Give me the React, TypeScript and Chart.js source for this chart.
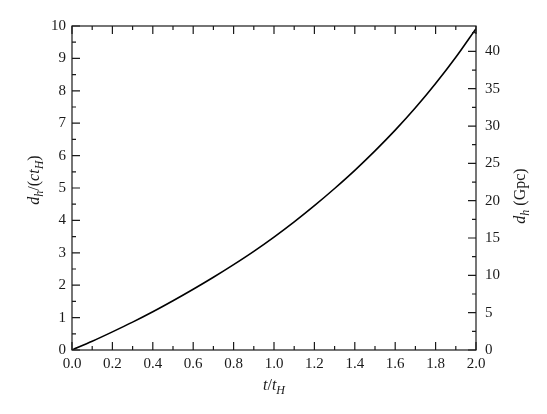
import React, { useEffect, useRef } from "react";
import { Chart, registerables } from "chart.js";

Chart.register(...registerables);

// ---- data ----
const timeValues = [0, 0.1, 0.2, 0.3, 0.4, 0.5, 0.6, 0.7, 0.8, 0.9, 1.0, 1.1, 1.2, 1.3, 1.4, 1.5, 1.6, 1.7, 1.8, 1.9, 2.0];
const horizonDistance = [0, 0.27, 0.56, 0.86, 1.18, 1.52, 1.875, 2.245, 2.635, 3.045, 3.485, 3.955, 4.455, 4.985, 5.545, 6.145, 6.785, 7.475, 8.225, 9.035, 9.92];

const xMajorTicks = [0, 0.2, 0.4, 0.6, 0.8, 1.0, 1.2, 1.4, 1.6, 1.8, 2.0];
const xMinorTicks = [0.1, 0.3, 0.5, 0.7, 0.9, 1.1, 1.3, 1.5, 1.7, 1.9];
const yLeftMajorTicks = [0, 1, 2, 3, 4, 5, 6, 7, 8, 9, 10];
const yLeftMinorTicks = [0.5, 1.5, 2.5, 3.5, 4.5, 5.5, 6.5, 7.5, 8.5, 9.5];
const yRightMajorTicks = [0, 5, 10, 15, 20, 25, 30, 35, 40];
const yRightMinorTicks = [2.5, 7.5, 12.5, 17.5, 22.5, 27.5, 32.5, 37.5, 42.5];
const gpcPerHubbleUnit = 4.34; // c t_H in Gpc

const SERIF = "'Liberation Serif', 'DejaVu Serif', serif";
const INK = "#1a1a1a";

type Seg = { text: string; italic?: boolean; sub?: boolean };

function drawRich(ctx: CanvasRenderingContext2D, segs: Seg[], cx: number, cy: number, rot: number, size: number) {
  const subSize = Math.round(size * 0.72);
  const fontOf = (s: Seg) => `${s.italic ? "italic " : ""}${s.sub ? subSize : size}px ${SERIF}`;
  let total = 0;
  const widths = segs.map((s) => {
    ctx.font = fontOf(s);
    const w = ctx.measureText(s.text).width;
    total += w;
    return w;
  });
  ctx.save();
  ctx.translate(cx, cy);
  ctx.rotate(rot);
  ctx.fillStyle = INK;
  ctx.textBaseline = "alphabetic";
  ctx.textAlign = "left";
  let x = -total / 2;
  const base = size * 0.35;
  segs.forEach((s, i) => {
    ctx.font = fontOf(s);
    ctx.fillText(s.text, x, base + (s.sub ? size * 0.28 : 0));
    x += widths[i];
  });
  ctx.restore();
}

const framePlugin = {
  id: "framePlugin",
  afterDatasetsDraw(chart: any) {
    const ctx: CanvasRenderingContext2D = chart.ctx;
    const a = chart.chartArea;
    const xs = chart.scales.x;
    const yl = chart.scales.y;
    const yr = chart.scales.y2;
    ctx.save();
    ctx.strokeStyle = INK;
    ctx.lineWidth = 1.2;
    ctx.strokeRect(a.left, a.top, a.right - a.left, a.bottom - a.top);
    const major = 8;
    const minor = 4;
    ctx.beginPath();
    const xt = (v: number, len: number) => {
      const px = xs.getPixelForValue(v);
      ctx.moveTo(px, a.bottom);
      ctx.lineTo(px, a.bottom - len);
      ctx.moveTo(px, a.top);
      ctx.lineTo(px, a.top + len);
    };
    xMajorTicks.forEach((v) => xt(v, major));
    xMinorTicks.forEach((v) => xt(v, minor));
    const ylt = (v: number, len: number) => {
      const py = yl.getPixelForValue(v);
      ctx.moveTo(a.left, py);
      ctx.lineTo(a.left + len, py);
    };
    yLeftMajorTicks.forEach((v) => ylt(v, major));
    yLeftMinorTicks.forEach((v) => ylt(v, minor));
    const yrt = (v: number, len: number) => {
      const py = yr.getPixelForValue(v);
      ctx.moveTo(a.right, py);
      ctx.lineTo(a.right - len, py);
    };
    yRightMajorTicks.forEach((v) => yrt(v, major));
    yRightMinorTicks.forEach((v) => yrt(v, minor));
    ctx.stroke();
    ctx.restore();

    // axis titles
    const midY = (a.top + a.bottom) / 2;
    drawRich(
      ctx,
      [
        { text: "d", italic: true },
        { text: "h", italic: true, sub: true },
        { text: "/(" },
        { text: "ct", italic: true },
        { text: "H", italic: true, sub: true },
        { text: ")" },
      ],
      33,
      midY - 8,
      -Math.PI / 2,
      16
    );
    drawRich(
      ctx,
      [
        { text: "d", italic: true },
        { text: "h", italic: true, sub: true },
        { text: " (Gpc)" },
      ],
      519,
      midY + 8,
      -Math.PI / 2,
      16
    );
    drawRich(
      ctx,
      [
        { text: "t", italic: true },
        { text: "/" },
        { text: "t", italic: true },
        { text: "H", italic: true, sub: true },
      ],
      (a.left + a.right) / 2,
      384,
      0,
      16
    );
  },
};

export default function App() {
  const canvasRef = useRef<HTMLCanvasElement | null>(null);

  useEffect(() => {
    const canvas = canvasRef.current;
    if (!canvas) return;
    const tickFont = { family: SERIF, size: 15 };
    const chart = new Chart(canvas, {
      type: "line",
      data: {
        datasets: [
          {
            label: "horizon distance",
            data: timeValues.map((t, i) => ({ x: t, y: horizonDistance[i] })),
            borderColor: "#000",
            borderWidth: 1.6,
            pointRadius: 0,
            fill: false,
            cubicInterpolationMode: "monotone",
            yAxisID: "y",
          },
        ],
      },
      options: {
        responsive: false,
        animation: false,
        events: [],
        layout: { padding: { top: 26, left: 0, right: 0, bottom: 0 } },
        plugins: { legend: { display: false }, tooltip: { enabled: false }, title: { display: false } },
        scales: {
          x: {
            type: "linear",
            position: "bottom",
            min: 0,
            max: 2,
            grid: { display: false, drawTicks: false },
            border: { display: false },
            afterBuildTicks: (s: any) => {
              s.ticks = xMajorTicks.map((v) => ({ value: v }));
            },
            afterFit: (s: any) => {
              s.height = 64;
            },
            ticks: {
              font: tickFont,
              color: INK,
              padding: 5,
              maxRotation: 0,
              autoSkip: false,
              callback: (v: any) => Number(v).toFixed(1),
            },
          },
          y: {
            type: "linear",
            position: "left",
            min: 0,
            max: 10,
            grid: { display: false, drawTicks: false },
            border: { display: false },
            afterBuildTicks: (s: any) => {
              s.ticks = yLeftMajorTicks.map((v) => ({ value: v }));
            },
            afterFit: (s: any) => {
              s.width = 72;
            },
            ticks: { font: tickFont, color: INK, padding: 6, autoSkip: false },
          },
          y2: {
            type: "linear",
            position: "right",
            min: 0,
            max: 10 * gpcPerHubbleUnit,
            grid: { display: false, drawTicks: false },
            border: { display: false },
            afterBuildTicks: (s: any) => {
              s.ticks = yRightMajorTicks.map((v) => ({ value: v }));
            },
            afterFit: (s: any) => {
              s.width = 71;
            },
            ticks: { font: tickFont, color: INK, padding: 9, autoSkip: false },
          },
        },
      },
      plugins: [framePlugin],
    } as any);
    return () => chart.destroy();
  }, []);

  return (
    <div style={{ position: "fixed", left: 0, top: 0, width: 547, height: 414, background: "#fff" }}>
      <canvas ref={canvasRef} width={547} height={414} style={{ display: "block" }} />
    </div>
  );
}
